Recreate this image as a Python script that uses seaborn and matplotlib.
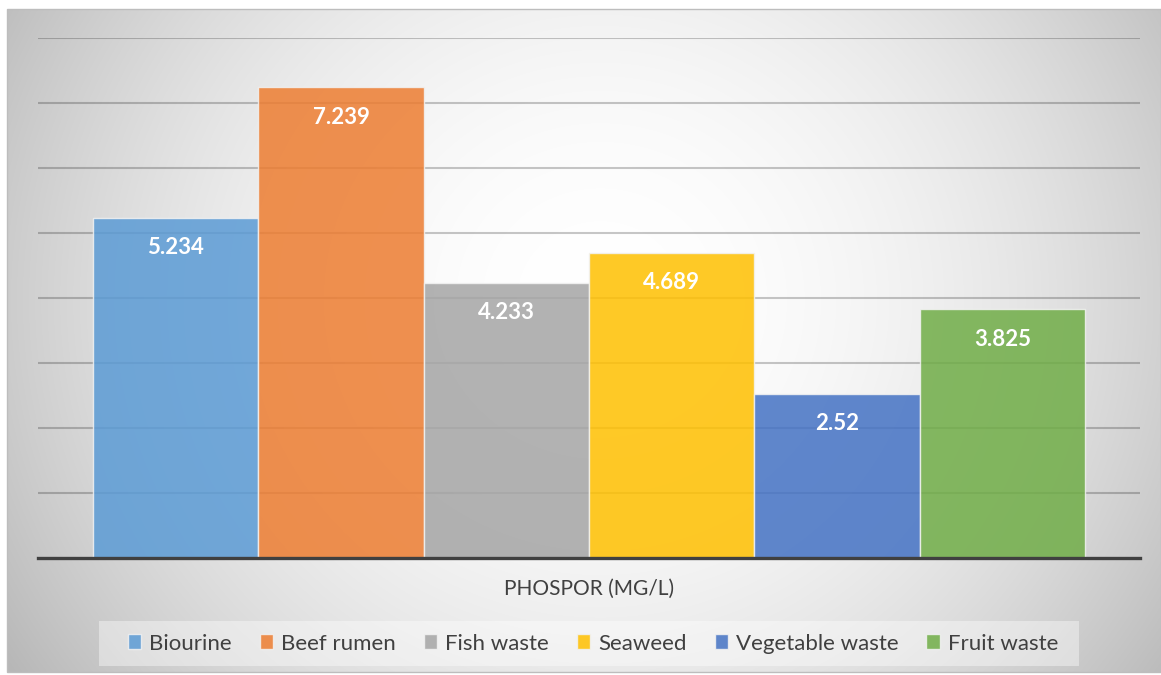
import numpy as np
import pandas as pd
import matplotlib
matplotlib.use('Agg')
import matplotlib.pyplot as plt
from matplotlib.patches import Rectangle
import seaborn as sns

# chart data
parameter = 'PHOSPOR (MG/L)'
materials = ['Biourine', 'Beef rumen', 'Fish waste', 'Seaweed', 'Vegetable waste', 'Fruit waste']
values = [5.234, 7.239, 4.233, 4.689, 2.52, 3.825]
colors = ['#5B9BD5', '#ED7D31', '#A5A5A5', '#FFC000', '#4472C4', '#70AD47']

df = pd.DataFrame({'param': parameter, 'material': materials, 'value': values})

sns.set_theme(style='white')
plt.rcParams['font.family'] = ['Lato', 'DejaVu Sans']

W, H = 1161, 675
fig = plt.figure(figsize=(W / 100, H / 100), dpi=100)
fig.patch.set_facecolor('white')

# gradient panel behind the chart (light centre, grey edges)
bg = fig.add_axes([7 / W, 3 / H, 1 - 7 / W, 663 / H], zorder=0)
yy, xx = np.mgrid[0:663, 0:1154]
d2 = ((xx + 7 - 600) / 610.0) ** 2 + ((yy + 9 - 300) / 580.0) ** 2
shade = np.clip(1 - 0.21 * d2, 0.72, 1)
bg.imshow(np.dstack([shade] * 3), aspect='auto', interpolation='bilinear')
bg.axis('off')
fig.patches.append(Rectangle((7 / W, 3 / H), 1 - 7 / W, 663 / H, transform=fig.transFigure,
                             fill=False, edgecolor='#bdbdbd', linewidth=1, zorder=0.5))

ax = fig.add_axes([38 / W, 117 / H, 1102 / W, 520 / H], zorder=1)
ax.set_facecolor('none')

sns.barplot(data=df, x='param', y='value', hue='material', hue_order=materials,
            palette=colors, saturation=1, width=0.9, alpha=0.85, edgecolor='#f2f2f2',
            linewidth=1, ax=ax)

ax.set_ylim(0, 8)
ax.set_xlim(-0.5, 0.5)
ax.set_yticks(np.arange(1, 9))
ax.yaxis.grid(True, color='black', alpha=0.22, linewidth=1.5)
ax.set_axisbelow(True)
ax.tick_params(axis='y', left=False, labelleft=False)
ax.tick_params(axis='x', length=0, pad=15, labelsize=15, labelcolor='#404040')
ax.set_xlabel('')
ax.set_ylabel('')
for s in ['top', 'left', 'right']:
    ax.spines[s].set_visible(False)
ax.spines['bottom'].set_color('#404040')
ax.spines['bottom'].set_linewidth(2.4)

for cont, v in zip(ax.containers, values):
    ax.bar_label(cont, labels=[f'{v:g}'], padding=-29, color='white',
                 fontsize=16, fontweight='bold')

# legend panel
fig.patches.append(Rectangle((99 / W, 1 - 666 / H), 980 / W, 45 / H, transform=fig.transFigure,
                             facecolor='white', alpha=0.4, edgecolor='none', zorder=1.5))

handles, labels = ax.get_legend_handles_labels()
ax.get_legend().remove()
leg = fig.legend(handles, labels, loc='center', bbox_to_anchor=(593 / W, 1 - 643.5 / H),
                 ncol=6, frameon=False, fontsize=16, handlelength=0.62,
                 handleheight=0.62, handletextpad=0.35, columnspacing=1.25)
leg.set_zorder(2)
for t in leg.get_texts():
    t.set_color('#404040')

fig.savefig('out.png', dpi=100)
